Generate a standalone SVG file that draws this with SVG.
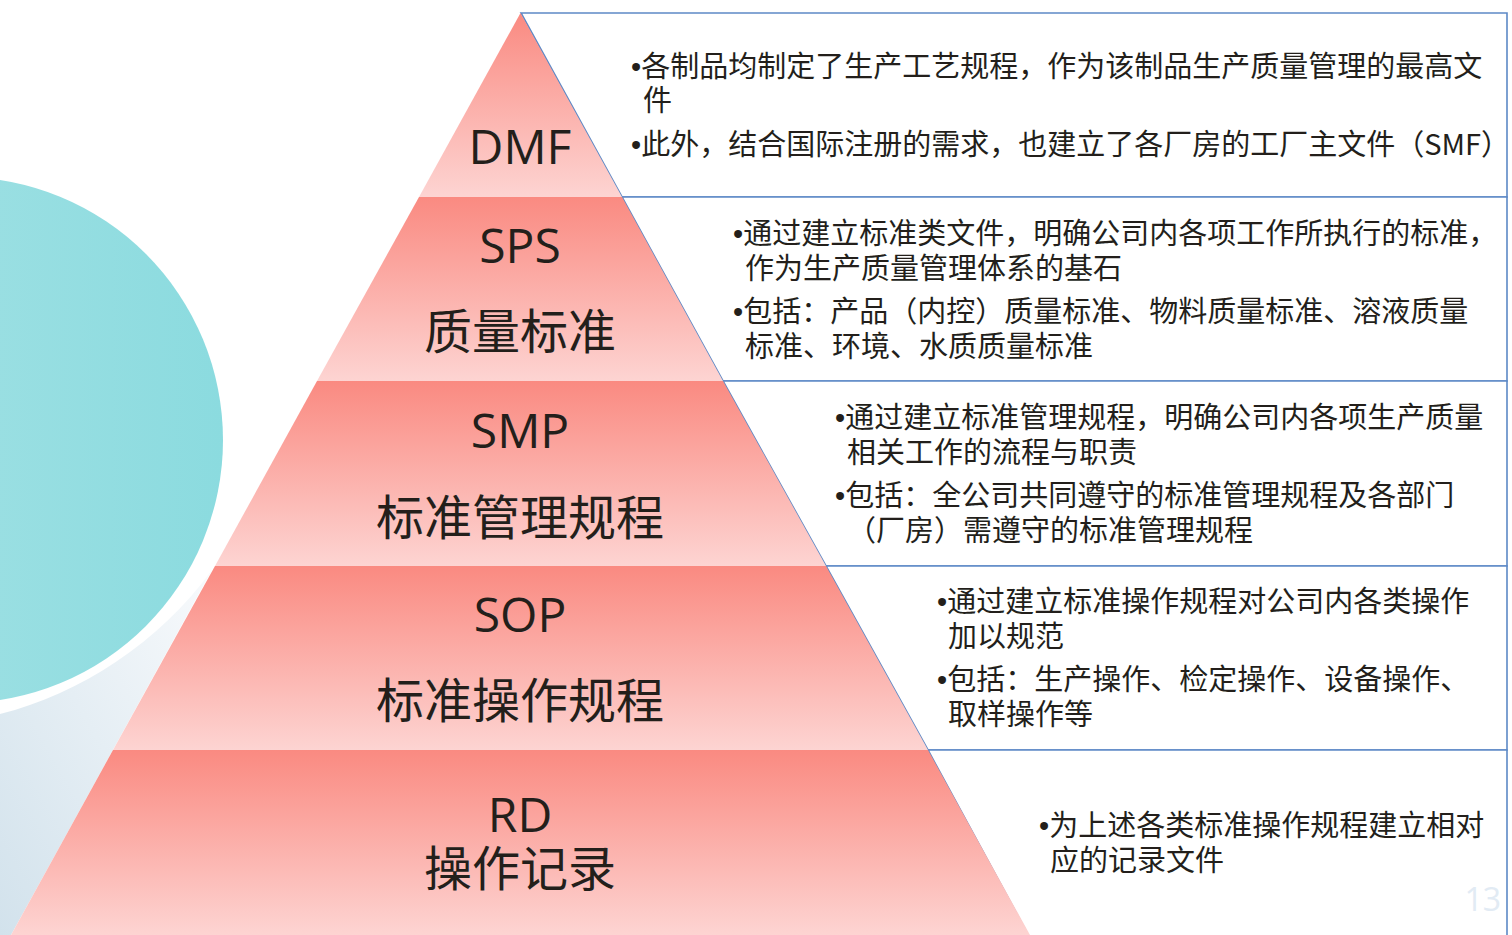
<svg xmlns="http://www.w3.org/2000/svg" width="1512" height="935" viewBox="0 0 1512 935">
<defs>
<linearGradient id="layer" x1="0" y1="0" x2="0" y2="1">
<stop offset="0" stop-color="#fa8a81"/>
<stop offset="1" stop-color="#fdd4d2"/>
</linearGradient>
<linearGradient id="teal" x1="0" y1="0" x2="1" y2="0">
<stop offset="0" stop-color="#ace4e6"/>
<stop offset="1" stop-color="#8bdbdf"/>
</linearGradient>
<linearGradient id="mist" x1="1" y1="0" x2="0" y2="1">
<stop offset="0" stop-color="#f8fafc"/>
<stop offset="1" stop-color="#d2e2ec"/>
</linearGradient>
<style>
.lbl{font-family:"Open Sans","Noto Sans CJK SC",sans-serif;font-size:48px;fill:#231f1b;text-anchor:middle}
.txt{font-family:"Noto Sans CJK SC","Noto Sans",sans-serif;font-size:29px;fill:#231f1b}
.b{font-family:"Liberation Sans",sans-serif}
.box{fill:#ffffff;stroke:#5d89c6;stroke-width:1.6}
.layer{fill:url(#layer)}
</style>
</defs>
<rect width="1512" height="935" fill="#ffffff"/>
<g id="background">
<path d="M0,714 C80,694 160,642 212,570 L11,935 L0,935 Z" fill="url(#mist)"/>
<circle cx="-40" cy="440" r="263" fill="url(#teal)"/>
</g>
<g id="boxes">
<polygon class="box" points="521,13 1507,13 1507,197 622,197"/>
<polygon class="box" points="622,197 1507,197 1507,381 723,381"/>
<polygon class="box" points="723,381 1507,381 1507,566 826,566"/>
<polygon class="box" points="826,566 1507,566 1507,750 928,750"/>
<polygon class="box" points="928,750 1507,750 1507,940 1031,940"/>
</g>
<g id="layer-dmf">
<polygon class="layer" points="520.5,13 622,197 419,197"/>
<text class="lbl" x="520" y="164">DMF</text>
</g>
<g id="layer-sps">
<polygon class="layer" points="419,197 622,197 723,381 317,381"/>
<text class="lbl" x="520" y="263">SPS</text>
<text class="lbl" x="520" y="349">质量标准</text>
</g>
<g id="layer-smp">
<polygon class="layer" points="317,381 723,381 826,566 215,566"/>
<text class="lbl" x="520" y="448">SMP</text>
<text class="lbl" x="520" y="535">标准管理规程</text>
</g>
<g id="layer-sop">
<polygon class="layer" points="215,566 826,566 928,750 113,750"/>
<text class="lbl" x="520" y="632">SOP</text>
<text class="lbl" x="520" y="718">标准操作规程</text>
</g>
<g id="layer-rd">
<polygon class="layer" points="113,750 928,750 1030,935 11,935"/>
<text class="lbl" x="520" y="832">RD</text>
<text class="lbl" x="520" y="886">操作记录</text>
</g>
<g id="text-dmf" class="txt">
<text x="631" y="77"><tspan class="b">•</tspan>各制品均制定了生产工艺规程，作为该制品生产质量管理的最高文</text>
<text x="643" y="111">件</text>
<text x="631" y="155"><tspan class="b">•</tspan>此外，结合国际注册的需求，也建立了各厂房的工厂主文件（SMF）</text>
</g>
<g id="text-sps" class="txt">
<text x="733" y="244"><tspan class="b">•</tspan>通过建立标准类文件，明确公司内各项工作所执行的标准，</text>
<text x="745" y="279">作为生产质量管理体系的基石</text>
<text x="733" y="322"><tspan class="b">•</tspan>包括：产品（内控）质量标准、物料质量标准、溶液质量</text>
<text x="745" y="357">标准、环境、水质质量标准</text>
</g>
<g id="text-smp" class="txt">
<text x="835" y="428"><tspan class="b">•</tspan>通过建立标准管理规程，明确公司内各项生产质量</text>
<text x="847" y="463">相关工作的流程与职责</text>
<text x="835" y="506"><tspan class="b">•</tspan>包括：全公司共同遵守的标准管理规程及各部门</text>
<text x="847" y="541">（厂房）需遵守的标准管理规程</text>
</g>
<g id="text-sop" class="txt">
<text x="937" y="612"><tspan class="b">•</tspan>通过建立标准操作规程对公司内各类操作</text>
<text x="948" y="647">加以规范</text>
<text x="937" y="690"><tspan class="b">•</tspan>包括：生产操作、检定操作、设备操作、</text>
<text x="948" y="725">取样操作等</text>
</g>
<g id="text-rd" class="txt">
<text x="1039" y="836"><tspan class="b">•</tspan>为上述各类标准操作规程建立相对</text>
<text x="1050" y="871">应的记录文件</text>
</g>
<text x="1501" y="911" text-anchor="end" font-family="Open Sans, sans-serif" font-size="32" fill="#e2ebf4">13</text>
</svg>
